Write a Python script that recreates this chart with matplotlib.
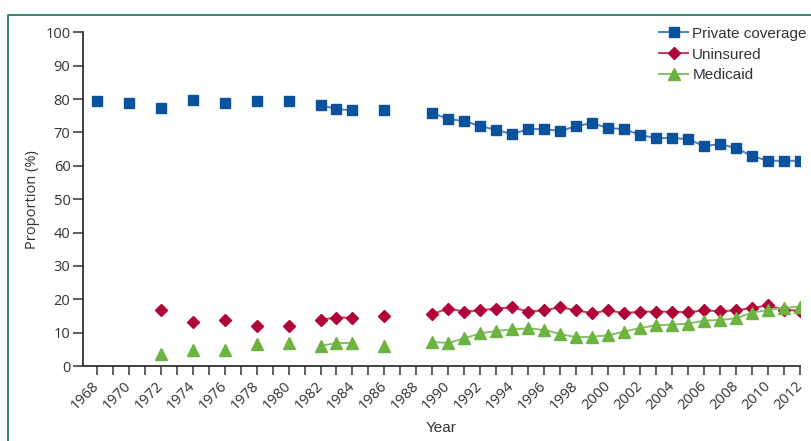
import numpy as np
import pandas as pd
import matplotlib
matplotlib.use("Agg")
import matplotlib.pyplot as plt
from matplotlib.lines import Line2D

# survey years (gaps are years with no data)
years = [1968, 1970, 1972, 1974, 1976, 1978, 1980, 1982, 1983, 1984, 1986,
         1989, 1990, 1991, 1992, 1993, 1994, 1995, 1996, 1997, 1998, 1999,
         2000, 2001, 2002, 2003, 2004, 2005, 2006, 2007, 2008, 2009, 2010,
         2011, 2012]

private = [79.4, 78.8, 77.3, 79.7, 78.8, 79.4, 79.4, 78.2, 77.0, 76.6, 76.6,
           75.8, 74.0, 73.4, 71.9, 70.7, 69.5, 71.0, 71.0, 70.4, 71.9, 72.8,
           71.3, 71.0, 69.2, 68.3, 68.3, 68.0, 65.9, 66.5, 65.3, 62.9, 61.5,
           61.5, 61.5]

uninsured = [None, None, 16.7, 13.1, 13.9, 11.9, 11.9, 13.9, 14.5, 14.5, 15.0,
             15.6, 17.2, 16.3, 16.7, 17.2, 17.6, 16.3, 16.7, 17.6, 16.7, 15.8,
             16.7, 15.8, 16.3, 16.3, 16.3, 16.1, 16.7, 16.4, 16.7, 17.4, 18.2,
             16.8, 16.6]

medicaid = [None, None, 3.5, 4.8, 4.8, 6.7, 6.9, 6.0, 6.9, 6.9, 6.1,
            7.2, 6.9, 8.3, 9.8, 10.5, 11.0, 11.3, 10.8, 9.6, 8.6, 8.8,
            9.2, 10.3, 11.4, 12.2, 12.4, 12.7, 13.6, 13.8, 14.3, 16.0, 16.8,
            17.4, 17.8]

# put everything on a yearly index so lines only join consecutive years
df = pd.DataFrame({"private": private, "uninsured": uninsured, "medicaid": medicaid},
                  index=years, dtype=float)
df = df.reindex(range(1968, 2013))

BLUE = "#0a529c"
BLUE_LINE = "#4f7fbd"
RED = "#b00536"
RED_LINE = "#c8385f"
GREEN = "#6cb33f"
GREEN_LINE = "#86c064"
AXIS = "#333333"

TICK_FONT = ["Open Sans", "DejaVu Sans"]
NARROW_FONT = ["Liberation Sans Narrow", "Liberation Sans", "DejaVu Sans"]

fig = plt.figure(figsize=(8.11, 4.41), dpi=100)
ax = fig.add_axes([83 / 811, 1 - 366 / 441, (800 - 83) / 811, (366 - 32.3) / 441])

ax.plot(df.index, df["private"], color=BLUE_LINE, lw=1.4, marker="s", ms=7.5,
        mfc=BLUE, mec=BLUE, label="Private coverage")
ax.plot(df.index, df["uninsured"], color=RED_LINE, lw=1.4, marker="D", ms=6.5,
        mfc=RED, mec=RED, label="Uninsured")
ax.plot(df.index, df["medicaid"], color=GREEN_LINE, lw=1.4, marker="^", ms=8,
        mfc=GREEN, mec=GREEN, label="Medicaid")

ax.set_xlim(1967.14, 2012)
ax.set_ylim(0, 100)
ax.set_yticks(range(0, 101, 10))
ax.set_xticks(range(1968, 2013, 2))
ax.set_xticks(range(1969, 2012, 2), minor=True)

for s in ["top", "right"]:
    ax.spines[s].set_visible(False)
for s in ["left", "bottom"]:
    ax.spines[s].set_color(AXIS)
    ax.spines[s].set_linewidth(1.3)

ax.tick_params(axis="y", length=7, width=1.1, color=AXIS, pad=2,
               labelsize=10.5, labelcolor=AXIS)
ax.tick_params(axis="x", which="both", length=6.5, width=1.1, color=AXIS)
ax.tick_params(axis="x", which="major", pad=6, labelsize=10.5, labelcolor=AXIS)

for lab in ax.get_yticklabels():
    lab.set_family(TICK_FONT)
for lab in ax.get_xticklabels():
    lab.set_family(TICK_FONT)
    lab.set_rotation(45)
    lab.set_ha("right")
    lab.set_va("center")
    lab.set_rotation_mode("anchor")

ax.set_ylabel("Proportion (%)", family=TICK_FONT, fontsize=10.5, color=AXIS, labelpad=4)
ax.set_xlabel("Year", family=NARROW_FONT, fontsize=11, color=AXIS, labelpad=6)

leg = ax.legend(loc="upper right", bbox_to_anchor=(1.018, 1.035), frameon=False,
                prop={"family": NARROW_FONT, "size": 11}, handlelength=1.9,
                handletextpad=0.25, labelspacing=0.45, borderaxespad=0)
for t in leg.get_texts():
    t.set_color(AXIS)

# green frame line on the left and top of the panel
x0 = 8 / 811
y0 = 1 - 14.7 / 441
fig.add_artist(Line2D([x0, x0, 1.0], [0.0, y0, y0], transform=fig.transFigure,
                      color="#1f8259", lw=1.3))

fig.savefig("out.png", dpi=100)
